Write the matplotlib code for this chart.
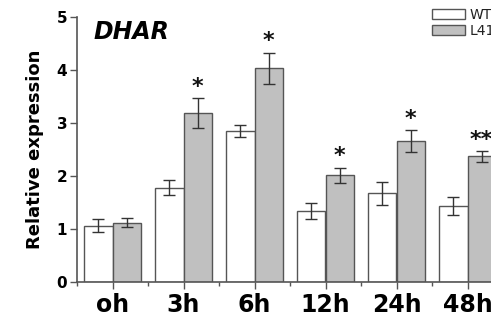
import matplotlib
matplotlib.use("Agg")
import matplotlib.pyplot as plt
import numpy as np
from matplotlib.patches import Patch

categories = ["oh", "3h", "6h", "12h", "24h", "48h"]
wt = [1.06, 1.78, 2.85, 1.34, 1.67, 1.43]
wt_err = [0.12, 0.14, 0.12, 0.15, 0.21, 0.17]
l41 = [1.12, 3.19, 4.03, 2.01, 2.66, 2.37]
l41_err = [0.08, 0.28, 0.30, 0.15, 0.20, 0.10]
signif = ["", "*", "*", "*", "*", "**"]
yticks = [0, 1, 2, 3, 4, 5]

fig = plt.figure(figsize=(4.91, 3.19), dpi=100)
ax = fig.add_axes([77/491, 37/319, 426/491, 265/319])

x = np.arange(len(categories))
w = 0.4
edge = "#555555"
ax.bar(x - w/2, wt, w, color="white", edgecolor=edge, linewidth=1.0, zorder=2)
ax.bar(x + w/2, l41, w, color="#c0c0c0", edgecolor=edge, linewidth=1.0, zorder=2)
ax.errorbar(x - w/2, wt, yerr=wt_err, fmt="none", ecolor="#333333", elinewidth=1.0, capsize=4, capthick=1.0, zorder=3)
ax.errorbar(x + w/2, l41, yerr=l41_err, fmt="none", ecolor="#333333", elinewidth=1.0, capsize=4, capthick=1.0, zorder=3)
for xi, v, e, s in zip(x, l41, l41_err, signif):
    if s:
        ax.text(xi + w/2, v + e + 0.03, s, ha="center", va="bottom", fontsize=16, fontweight="bold", color="#111111")

ax.set_xlim(-0.5, 5.5)
ax.set_ylim(0, 5)
ax.set_yticks(yticks)
ax.set_yticklabels([str(t) for t in yticks], fontweight="bold", fontsize=11)
ax.set_xticks(x)
ax.set_xticklabels(categories, fontweight="bold", fontsize=17)
ax.set_xticks(np.arange(-0.5, 5.6, 1.0), minor=True)
ax.tick_params(axis="x", which="major", length=5, width=1, color=edge, pad=3)
ax.tick_params(axis="x", which="minor", length=3, width=1, color=edge)
ax.tick_params(axis="y", length=5, width=1, color=edge, pad=2)
for s in ["top", "right"]:
    ax.spines[s].set_visible(False)
for s in ["left", "bottom"]:
    ax.spines[s].set_color(edge)
    ax.spines[s].set_linewidth(1.2)

ax.set_ylabel("Relative expression", fontsize=13, fontweight="bold", labelpad=9)
ax.text(16/426, 0.99, "DHAR", transform=ax.transAxes, fontsize=17, fontweight="bold", fontstyle="italic", va="top", ha="left")

handles = [Patch(facecolor="white", edgecolor=edge, label="WT"),
           Patch(facecolor="#c0c0c0", edgecolor=edge, label="L41")]
fig.legend(handles=handles, loc="upper left", bbox_to_anchor=(432/491, 1 - 8/319), frameon=False,
           fontsize=10, handlelength=2.4, handleheight=0.72, handletextpad=0.3, labelspacing=0.15,
           borderpad=0, borderaxespad=0, labelcolor="#222222")

fig.savefig("out.png", dpi=100)
